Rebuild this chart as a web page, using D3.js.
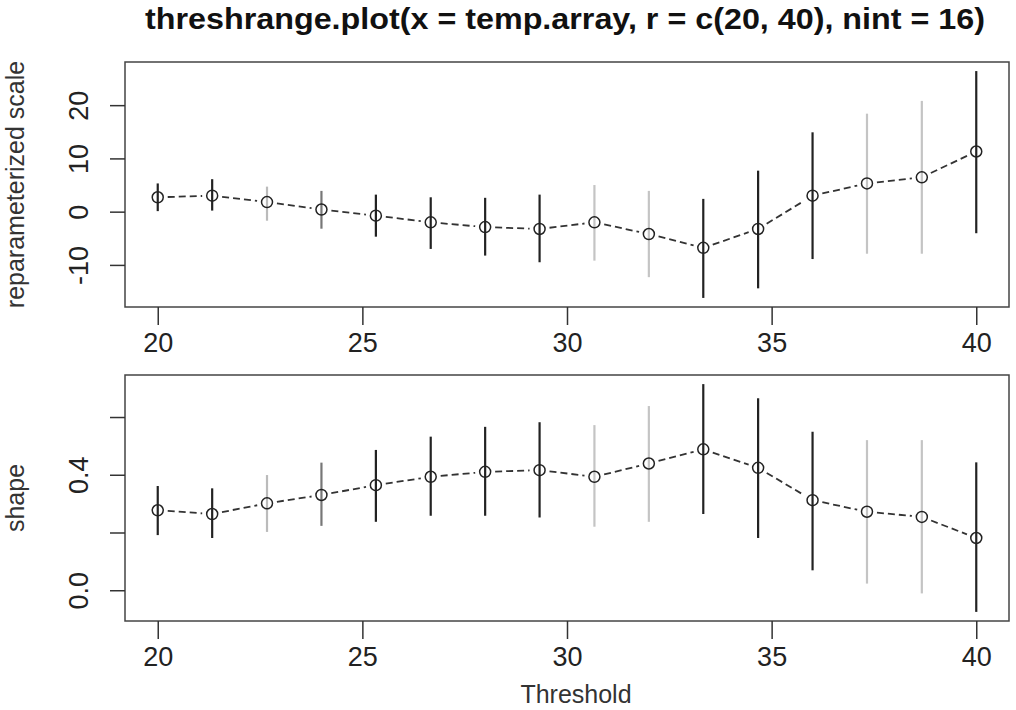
<!DOCTYPE html>
<html>
<head>
<meta charset="utf-8">
<script src="https://cdn.jsdelivr.net/npm/d3@7"></script>
<style>
  body { margin: 0; background: #fff; }
  svg { font-family: "Liberation Sans", Arial, sans-serif; }
</style>
</head>
<body>
<div id="chart"></div>
<script>
const width = 1016,
      height = 710;

const thresholds = [20, 21.33, 22.67, 24, 25.33, 26.67, 28, 29.33, 30.67, 32, 33.33, 34.67, 36, 37.33, 38.67, 40];

// reparameterized scale: estimate and interval
const scaleEst = [2.7, 3.0, 1.8, 0.4, -0.75, -2.0, -2.9, -3.25, -2.0, -4.2, -6.8, -3.25, 3.0, 5.3, 6.45, 11.3];
const scaleLo  = [0.1, 0.2, -1.7, -3.2, -4.7, -7.0, -8.25, -9.5, -9.2, -12.3, -16.2, -14.4, -8.9, -7.9, -7.9, -4.05];
const scaleHi  = [5.3, 6.1, 4.7, 3.9, 3.2, 2.7, 2.6, 3.2, 5.0, 3.9, 2.4, 7.7, 14.9, 18.4, 20.8, 26.4];

// shape: estimate and interval
const shapeEst = [0.277, 0.264, 0.301, 0.330, 0.364, 0.393, 0.410, 0.416, 0.393, 0.439, 0.488, 0.424, 0.312, 0.272, 0.254, 0.181];
const shapeLo  = [0.191, 0.181, 0.202, 0.223, 0.237, 0.258, 0.258, 0.252, 0.220, 0.237, 0.264, 0.181, 0.069, 0.023, -0.011, -0.075];
const shapeHi  = [0.361, 0.353, 0.399, 0.442, 0.486, 0.532, 0.566, 0.582, 0.572, 0.638, 0.714, 0.665, 0.549, 0.520, 0.520, 0.443];

const xTicks = [20, 25, 30, 35, 40];
const scaleTicks = [-10, 0, 10, 20];
const scaleTickLabels = ["-10", "0", "10", "20"];
const shapeTicks = [0.0, 0.2, 0.4, 0.6];
const shapeTickLabels = ["0.0", "", "0.4", ""];

// the interval lines come out in different greys in the original picture
const barTone = ["#222", "#222", "#bbb", "#777", "#222", "#222", "#222", "#222",
                 "#c4c4c4", "#c4c4c4", "#222", "#222", "#222", "#c4c4c4", "#c4c4c4", "#222"];

const plotLeft = 125, plotRight = 1009;

const svg = d3.select("#chart")
  .append("svg")
  .attr("width", width)
  .attr("height", height);

svg.append("rect").attr("width", width).attr("height", height).attr("fill", "#fff");

// R style axis range: data range plus 4% each side
function padded(lo, hi) {
  const ext = [d3.min(lo), d3.max(hi)];
  const pad = (ext[1] - ext[0]) * 0.04;
  return [ext[0] - pad, ext[1] + pad];
}

const xExt = d3.extent(thresholds);
const xPad = (xExt[1] - xExt[0]) * 0.04;
const x = d3.scaleLinear()
  .domain([xExt[0] - xPad, xExt[1] + xPad])
  .range([plotLeft, plotRight]);

function panel(opts) {
  const {top, bottom, est, lo, hi, yTicks, yLabels, yTitle, yTitleSize} = opts;
  const y = d3.scaleLinear().domain(padded(lo, hi)).range([bottom, top]);
  const g = svg.append("g");

  // box
  g.append("rect")
    .attr("x", plotLeft)
    .attr("y", top)
    .attr("width", plotRight - plotLeft)
    .attr("height", bottom - top)
    .attr("fill", "none")
    .attr("stroke", "#444")
    .attr("stroke-width", 1.5);

  // x axis
  const xAxis = g.append("g")
    .attr("transform", `translate(0, ${bottom})`)
    .call(d3.axisBottom(x).tickValues(xTicks).tickSize(18).tickSizeOuter(0).tickPadding(8).tickFormat(d3.format("d")));
  xAxis.select(".domain").remove();
  xAxis.selectAll(".tick line").attr("stroke", "#333").attr("stroke-width", 1.5);
  xAxis.selectAll(".tick text")
    .attr("font-size", 27)
    .attr("fill", "#222")
    .style("font-family", "Liberation Sans, Arial, sans-serif");

  // y axis, labels rotated like R's las = 0
  const yAxis = g.append("g")
    .attr("transform", `translate(${plotLeft}, 0)`)
    .call(d3.axisLeft(y).tickValues(yTicks).tickSize(15).tickSizeOuter(0).tickFormat((d, i) => yLabels[i]));
  yAxis.select(".domain").remove();
  yAxis.selectAll(".tick line").attr("stroke", "#333").attr("stroke-width", 1.5);
  yAxis.selectAll(".tick text")
    .attr("x", null)
    .attr("dy", null)
    .attr("transform", "translate(-37, 0) rotate(-90)")
    .attr("text-anchor", "middle")
    .attr("font-size", 27)
    .attr("fill", "#222")
    .style("font-family", "Liberation Sans, Arial, sans-serif");

  g.append("text")
    .attr("transform", `translate(24, ${(top + bottom) / 2}) rotate(-90)`)
    .attr("text-anchor", "middle")
    .attr("font-size", yTitleSize)
    .attr("fill", "#333")
    .text(yTitle);

  const pts = thresholds.map((t, i) => ({t, est: est[i], lo: lo[i], hi: hi[i], i}));

  // intervals
  g.selectAll(".bar")
    .data(pts)
    .enter()
    .append("line")
    .attr("class", "bar")
    .attr("x1", (d) => x(d.t))
    .attr("x2", (d) => x(d.t))
    .attr("y1", (d) => y(d.lo))
    .attr("y2", (d) => y(d.hi))
    .attr("stroke", (d) => barTone[d.i])
    .attr("stroke-width", 2.2);

  // dashed connecting segments, with gaps round the points (type = "b")
  const gap = 10;
  const segs = d3.pairs(pts);
  g.selectAll(".seg")
    .data(segs)
    .enter()
    .append("line")
    .attr("class", "seg")
    .each(function ([a, b]) {
      const x1 = x(a.t), y1 = y(a.est), x2 = x(b.t), y2 = y(b.est);
      const len = Math.hypot(x2 - x1, y2 - y1);
      const ux = (x2 - x1) / len, uy = (y2 - y1) / len;
      d3.select(this)
        .attr("x1", x1 + ux * gap)
        .attr("y1", y1 + uy * gap)
        .attr("x2", x2 - ux * gap)
        .attr("y2", y2 - uy * gap);
    })
    .attr("stroke", "#333")
    .attr("stroke-width", 1.8)
    .attr("stroke-dasharray", "7,4");

  // points
  g.selectAll(".pt")
    .data(pts)
    .enter()
    .append("circle")
    .attr("class", "pt")
    .attr("cx", (d) => x(d.t))
    .attr("cy", (d) => y(d.est))
    .attr("r", 5.5)
    .attr("fill", "none")
    .attr("stroke", "#222")
    .attr("stroke-width", 1.5);
}

panel({top: 62, bottom: 307, est: scaleEst, lo: scaleLo, hi: scaleHi,
       yTicks: scaleTicks, yLabels: scaleTickLabels, yTitle: "reparameterized scale", yTitleSize: 25});

panel({top: 375, bottom: 621, est: shapeEst, lo: shapeLo, hi: shapeHi,
       yTicks: shapeTicks, yLabels: shapeTickLabels, yTitle: "shape", yTitleSize: 25});

// title
svg.append("text")
  .attr("x", 565)
  .attr("y", 29)
  .attr("text-anchor", "middle")
  .attr("font-size", 29)
  .attr("font-weight", "bold")
  .attr("fill", "#111")
  .attr("textLength", 840)
  .attr("lengthAdjust", "spacingAndGlyphs")
  .text("threshrange.plot(x = temp.array, r = c(20, 40), nint = 16)");

svg.append("text")
  .attr("x", (plotLeft + plotRight) / 2 + 9)
  .attr("y", 703)
  .attr("text-anchor", "middle")
  .attr("font-size", 25)
  .attr("fill", "#333")
  .text("Threshold");
</script>
</body>
</html>
